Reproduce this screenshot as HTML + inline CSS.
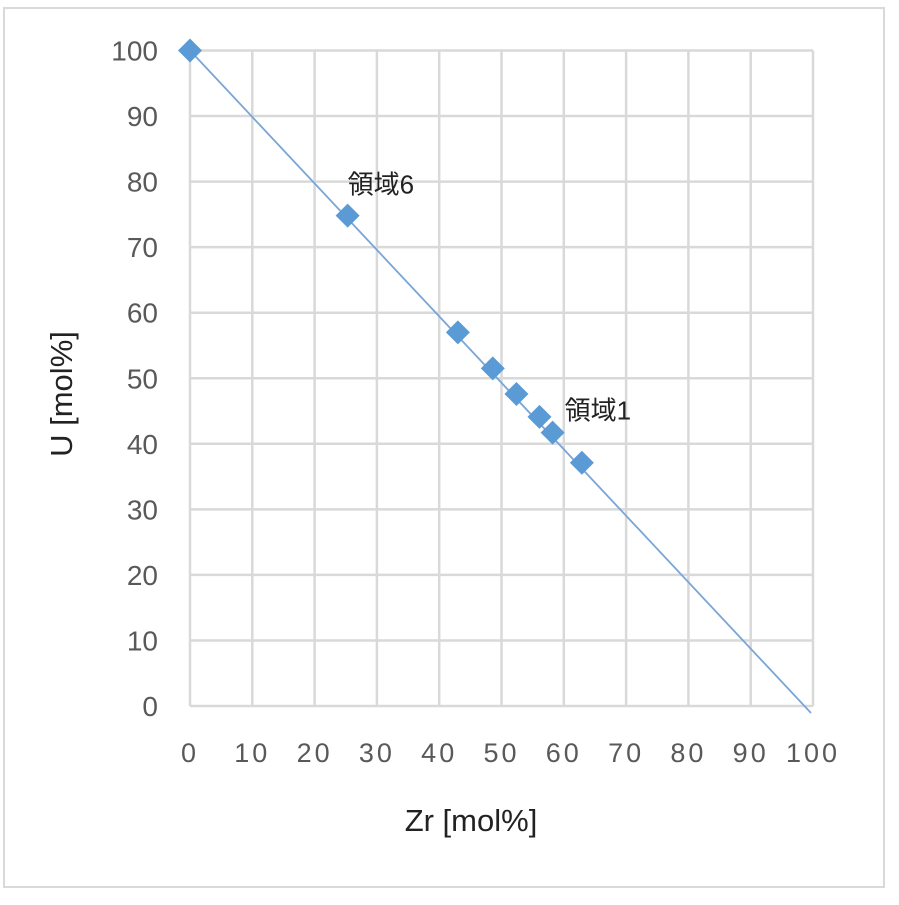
<!DOCTYPE html>
<html><head><meta charset="utf-8"><style>
html,body{margin:0;padding:0;background:#fff;}
svg text{font-family:"Liberation Sans","Noto Sans CJK JP",sans-serif;}
</style></head><body>
<svg id="chart" width="899" height="900" xmlns="http://www.w3.org/2000/svg">
<rect x="4" y="8" width="880" height="879" fill="#fff" stroke="#d9d9d9" stroke-width="2"/>
<g id="grid"></g>
<g id="ticks"></g>
<g id="series"></g>
<text x="471" y="831" font-size="31" fill="#222" text-anchor="middle">Zr [mol%]</text>
<text transform="translate(72,394) rotate(-90)" font-size="31" fill="#222" text-anchor="middle">U [mol%]</text>
</svg>
<script>
const xTicks=[0,10,20,30,40,50,60,70,80,90,100];
const yTicks=[0,10,20,30,40,50,60,70,80,90,100];
const zrValues=[0,25.3,43,48.6,52.4,56.1,58.2,62.9];
const uValues=[100,74.8,57,51.5,47.6,44.1,41.7,37.1];
const lineX=[0,100];
const lineY=[100,0];
const annotTexts=["領域6","領域1"];
const annotIdx=[1,6];
const NS="http://www.w3.org/2000/svg";
const X0=190,X1=813,Y0=706,Y1=50.5;
const sx=v=>X0+(X1-X0)*v/100;
const sy=v=>Y0-(Y0-Y1)*v/100;
function mk(tag,attrs,parent){const e=document.createElementNS(NS,tag);for(const k in attrs)e.setAttribute(k,attrs[k]);parent.appendChild(e);return e;}
const grid=document.getElementById('grid'),ticks=document.getElementById('ticks'),series=document.getElementById('series');
xTicks.forEach(v=>{
 const l=mk('line',{x1:sx(v),x2:sx(v),y1:sy(100),y2:sy(0),stroke:'#d9d9d9','stroke-width':2.5},grid);
 
 
 const t=mk('text',{x:sx(v),y:762,'font-size':27,fill:'#595959','text-anchor':'middle','letter-spacing':3},ticks);
 t.textContent=v;
 
 
});
yTicks.forEach(v=>{
 const l=mk('line',{x1:sx(0),x2:sx(100),y1:sy(v),y2:sy(v),stroke:'#d9d9d9','stroke-width':2.5},grid);
 
 
 const t=mk('text',{x:158,y:sy(v)+10,'font-size':28,fill:'#595959','text-anchor':'end'},ticks);
 t.textContent=v;
 
 
});
const ln=mk('line',{x1:sx(lineX[0]),y1:sy(lineY[0]),x2:sx(lineX[1])-2,y2:sy(lineY[1])+7,stroke:'#7aa6d6','stroke-width':1.8},series);


zrValues.forEach((z,i)=>{
 const cx=sx(z),cy=sy(uValues[i]),r=12;
 const p=mk('polygon',{points:`${cx},${cy-r} ${cx+r},${cy} ${cx},${cy+r} ${cx-r},${cy}`,fill:'#5b9bd5'},series);
 
 
});
annotIdx.forEach((idx,k)=>{
 const t=mk('text',{x:sx(zrValues[idx])+(k===0?0:12),y:sy(uValues[idx])-(k===0?22:13),'font-size':26,fill:'#222'},series);
 t.textContent=annotTexts[k];
 
 
});
</script>
</body></html>
